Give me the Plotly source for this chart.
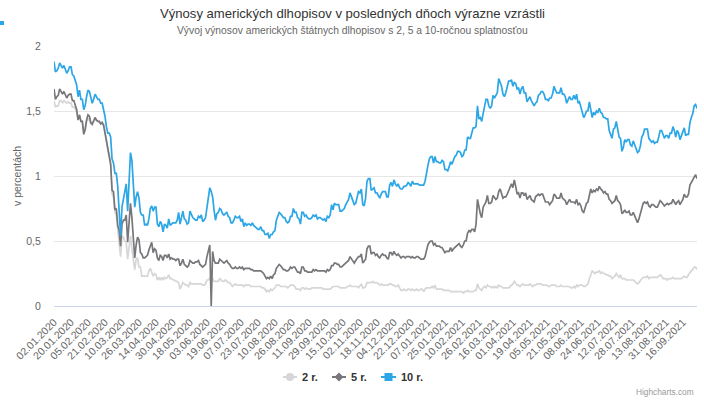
import pandas as pd
import plotly.graph_objects as go

# ---------------- data ----------------
SERIES_NAMES = ["2 r.", "5 r.", "10 r."]

# trading days shown (weekdays, Good Friday 2020 missing in source)
START, END = "2020-01-02", "2021-09-30"
MISSING_DAYS = ["2020-04-10"]

TICK_LABELS = [
    "02.01.2020", "20.01.2020", "05.02.2020", "21.02.2020", "10.03.2020", "26.03.2020",
    "14.04.2020", "30.04.2020", "18.05.2020", "03.06.2020", "19.06.2020", "07.07.2020",
    "23.07.2020", "10.08.2020", "26.08.2020", "11.09.2020", "29.09.2020", "15.10.2020",
    "02.11.2020", "18.11.2020", "04.12.2020", "22.12.2020", "07.01.2021", "25.01.2021",
    "10.02.2021", "26.02.2021", "16.03.2021", "01.04.2021", "19.04.2021", "05.05.2021",
    "21.05.2021", "08.06.2021", "24.06.2021", "12.07.2021", "28.07.2021", "13.08.2021",
    "31.08.2021", "16.09.2021",
]

Y_TICKS = [0, 0.5, 1, 1.5, 2]
Y_TICK_TEXT = ["0", "0,5", "1", "1,5", "2"]

# one inner list per month (Jan 2020 ... Sep 2021)
Y2 = [
    [1.58,1.53,1.54,1.54,1.58,1.58,1.56,1.58,1.57,1.56,1.57,1.56,1.56,1.53,1.53,1.52,1.49,1.44,1.47,1.43,1.42,1.33],
    [1.35,1.42,1.44,1.43,1.40,1.39,1.42,1.44,1.43,1.42,1.42,1.40,1.42,1.40,1.35,1.27,1.21,1.16,1.10,0.86],
    [0.84,0.72,0.70,0.59,0.49,0.38,0.54,0.53,0.50,0.49,0.36,0.47,0.54,0.44,0.37,0.28,0.36,0.37,0.30,0.30,0.23,0.23],
    [0.23,0.23,0.23,0.27,0.29,0.26,0.23,0.25,0.24,0.20,0.22,0.20,0.22,0.20,0.22,0.21,0.22,0.24,0.21,0.21,0.20],
    [0.20,0.19,0.19,0.18,0.13,0.16,0.18,0.17,0.16,0.16,0.15,0.18,0.17,0.17,0.17,0.17,0.17,0.17,0.17,0.17,0.16],
    [0.16,0.17,0.20,0.20,0.22,0.23,0.21,0.19,0.19,0.19,0.19,0.21,0.20,0.19,0.19,0.20,0.19,0.18,0.18,0.16,0.15,0.16],
    [0.17,0.16,0.16,0.16,0.16,0.16,0.15,0.16,0.16,0.16,0.16,0.15,0.15,0.15,0.15,0.15,0.15,0.15,0.15,0.14,0.14,0.13,0.11],
    [0.12,0.11,0.13,0.12,0.13,0.14,0.16,0.16,0.16,0.15,0.15,0.15,0.15,0.15,0.14,0.15,0.16,0.16,0.16,0.15,0.13],
    [0.13,0.13,0.12,0.14,0.14,0.13,0.14,0.13,0.13,0.13,0.14,0.14,0.14,0.14,0.14,0.14,0.14,0.14,0.13,0.13,0.13,0.13],
    [0.13,0.13,0.14,0.15,0.15,0.15,0.15,0.15,0.14,0.14,0.14,0.14,0.14,0.15,0.15,0.16,0.15,0.15,0.15,0.15,0.15,0.14],
    [0.16,0.17,0.14,0.14,0.15,0.18,0.18,0.18,0.18,0.19,0.18,0.18,0.18,0.17,0.16,0.17,0.16,0.16,0.16,0.16,0.16],
    [0.17,0.17,0.16,0.16,0.15,0.15,0.16,0.14,0.12,0.12,0.13,0.12,0.12,0.13,0.13,0.12,0.13,0.12,0.12,0.13,0.12,0.12,0.13],
    [0.13,0.11,0.13,0.14,0.14,0.14,0.14,0.15,0.14,0.16,0.13,0.13,0.13,0.13,0.13,0.12,0.12,0.12,0.12,0.12,0.11],
    [0.11,0.11,0.11,0.11,0.11,0.11,0.11,0.11,0.10,0.11,0.11,0.12,0.11,0.11,0.11,0.11,0.12,0.12,0.17,0.14],
    [0.13,0.12,0.14,0.15,0.14,0.16,0.15,0.15,0.14,0.15,0.14,0.15,0.14,0.16,0.15,0.15,0.14,0.14,0.14,0.14,0.14,0.15,0.16],
    [0.17,0.19,0.17,0.16,0.16,0.15,0.16,0.17,0.16,0.16,0.16,0.16,0.17,0.16,0.15,0.16,0.16,0.17,0.17,0.17,0.17,0.16],
    [0.16,0.16,0.16,0.15,0.15,0.16,0.16,0.16,0.16,0.15,0.15,0.15,0.16,0.15,0.15,0.15,0.15,0.15,0.15,0.14,0.14],
    [0.15,0.14,0.16,0.15,0.16,0.16,0.16,0.15,0.15,0.16,0.17,0.21,0.25,0.27,0.26,0.25,0.26,0.26,0.27,0.25,0.26,0.25],
    [0.25,0.24,0.24,0.23,0.23,0.21,0.22,0.23,0.25,0.23,0.22,0.24,0.21,0.21,0.21,0.20,0.20,0.20,0.20,0.20,0.20,0.19],
    [0.18,0.17,0.18,0.20,0.21,0.22,0.22,0.22,0.23,0.21,0.22,0.22,0.22,0.22,0.22,0.22,0.23,0.24,0.23,0.21,0.21,0.21],
    [0.20,0.21,0.21,0.21,0.22,0.21,0.21,0.21,0.21,0.21,0.21,0.22,0.23,0.22,0.22,0.24,0.26,0.27,0.28,0.30,0.30,0.28],
]

Y5 = [
    [1.67,1.59,1.61,1.62,1.67,1.65,1.63,1.65,1.63,1.60,1.62,1.63,1.63,1.58,1.58,1.55,1.51,1.43,1.47,1.42,1.42,1.32],
    [1.36,1.43,1.47,1.46,1.41,1.40,1.43,1.45,1.43,1.42,1.42,1.40,1.41,1.39,1.33,1.26,1.20,1.15,1.09,0.89],
    [0.88,0.74,0.75,0.62,0.58,0.46,0.63,0.66,0.66,0.70,0.49,0.62,0.79,0.68,0.52,0.37,0.47,0.53,0.51,0.41,0.40,0.37],
    [0.37,0.38,0.39,0.43,0.47,0.49,0.41,0.44,0.43,0.37,0.35,0.39,0.38,0.35,0.39,0.39,0.37,0.40,0.36,0.37,0.36],
    [0.36,0.35,0.36,0.36,0.31,0.33,0.36,0.32,0.31,0.30,0.31,0.35,0.34,0.33,0.33,0.34,0.34,0.35,0.32,0.31,0.30],
    [0.31,0.32,0.38,0.42,0.47,0.00,0.42,0.35,0.33,0.33,0.33,0.36,0.35,0.34,0.33,0.34,0.35,0.33,0.32,0.30,0.29,0.29],
    [0.30,0.29,0.29,0.30,0.29,0.30,0.28,0.29,0.29,0.29,0.29,0.28,0.28,0.27,0.27,0.27,0.27,0.27,0.27,0.26,0.25,0.23,0.21],
    [0.22,0.21,0.23,0.21,0.24,0.25,0.29,0.31,0.32,0.31,0.29,0.28,0.28,0.27,0.27,0.28,0.30,0.29,0.30,0.30,0.28],
    [0.26,0.26,0.25,0.30,0.30,0.27,0.27,0.26,0.26,0.26,0.26,0.28,0.27,0.28,0.27,0.27,0.27,0.27,0.27,0.27,0.26,0.28],
    [0.27,0.28,0.31,0.31,0.33,0.33,0.32,0.32,0.30,0.30,0.31,0.32,0.33,0.34,0.35,0.38,0.36,0.35,0.33,0.35,0.37,0.38],
    [0.38,0.40,0.33,0.35,0.36,0.44,0.46,0.46,0.40,0.41,0.41,0.39,0.40,0.38,0.37,0.39,0.40,0.39,0.39,0.37,0.36],
    [0.41,0.41,0.39,0.42,0.40,0.39,0.40,0.38,0.37,0.38,0.38,0.37,0.38,0.38,0.38,0.37,0.38,0.37,0.37,0.38,0.38,0.37,0.36],
    [0.36,0.36,0.38,0.43,0.47,0.49,0.50,0.50,0.47,0.48,0.46,0.46,0.46,0.45,0.45,0.43,0.41,0.42,0.42,0.42,0.45],
    [0.42,0.44,0.45,0.46,0.47,0.48,0.46,0.45,0.47,0.50,0.50,0.56,0.58,0.57,0.59,0.59,0.57,0.63,0.82,0.75],
    [0.71,0.68,0.76,0.78,0.80,0.85,0.79,0.79,0.80,0.85,0.83,0.82,0.83,0.88,0.90,0.86,0.83,0.84,0.84,0.86,0.89,0.92,0.94],
    [0.91,0.97,0.92,0.86,0.87,0.83,0.87,0.87,0.85,0.87,0.82,0.84,0.85,0.82,0.81,0.80,0.84,0.85,0.86,0.85,0.86,0.86],
    [0.83,0.80,0.80,0.80,0.78,0.80,0.81,0.86,0.85,0.83,0.83,0.83,0.87,0.83,0.82,0.81,0.78,0.80,0.82,0.80,0.80],
    [0.80,0.79,0.82,0.78,0.79,0.77,0.73,0.72,0.75,0.79,0.80,0.86,0.90,0.87,0.89,0.88,0.90,0.89,0.92,0.90,0.89,0.87],
    [0.88,0.86,0.86,0.82,0.81,0.79,0.80,0.81,0.85,0.81,0.80,0.78,0.71,0.72,0.74,0.72,0.72,0.73,0.70,0.70,0.72,0.69],
    [0.66,0.64,0.67,0.71,0.77,0.79,0.80,0.79,0.80,0.77,0.76,0.78,0.78,0.77,0.76,0.76,0.78,0.81,0.80,0.78,0.77,0.78],
    [0.79,0.78,0.79,0.79,0.82,0.80,0.78,0.80,0.81,0.78,0.80,0.82,0.86,0.84,0.84,0.86,0.93,0.95,0.96,0.99,1.01,0.98],
]

Y10 = [
    [1.88,1.80,1.81,1.83,1.87,1.85,1.83,1.85,1.82,1.79,1.81,1.84,1.84,1.78,1.77,1.74,1.70,1.61,1.66,1.59,1.59,1.51],
    [1.54,1.61,1.66,1.65,1.59,1.56,1.59,1.63,1.61,1.59,1.59,1.56,1.56,1.52,1.46,1.38,1.33,1.33,1.30,1.13],
    [1.10,1.02,1.02,0.92,0.74,0.54,0.76,0.82,0.88,0.94,0.73,1.02,1.18,1.12,0.92,0.76,0.84,0.88,0.83,0.72,0.70,0.70],
    [0.62,0.63,0.62,0.67,0.75,0.77,0.73,0.76,0.76,0.63,0.61,0.65,0.63,0.57,0.63,0.62,0.60,0.67,0.62,0.63,0.64],
    [0.64,0.64,0.66,0.72,0.63,0.69,0.73,0.67,0.66,0.63,0.64,0.73,0.70,0.68,0.67,0.66,0.66,0.69,0.68,0.70,0.65],
    [0.66,0.68,0.77,0.82,0.91,0.88,0.84,0.74,0.66,0.71,0.72,0.75,0.74,0.71,0.70,0.71,0.72,0.69,0.68,0.64,0.64,0.66],
    [0.69,0.68,0.68,0.69,0.65,0.67,0.61,0.64,0.62,0.63,0.63,0.62,0.64,0.62,0.61,0.60,0.59,0.59,0.61,0.58,0.58,0.55,0.55],
    [0.56,0.52,0.55,0.55,0.57,0.58,0.66,0.69,0.72,0.71,0.69,0.68,0.68,0.65,0.64,0.65,0.69,0.69,0.75,0.72,0.72],
    [0.68,0.67,0.63,0.72,0.72,0.69,0.70,0.68,0.67,0.67,0.68,0.70,0.69,0.70,0.67,0.68,0.68,0.67,0.66,0.67,0.65,0.69],
    [0.68,0.70,0.78,0.74,0.79,0.78,0.78,0.78,0.73,0.73,0.74,0.75,0.78,0.80,0.82,0.87,0.84,0.81,0.78,0.79,0.85,0.88],
    [0.87,0.90,0.78,0.77,0.83,0.96,0.98,0.98,0.89,0.90,0.91,0.87,0.87,0.85,0.83,0.86,0.88,0.88,0.88,0.84,0.84],
    [0.93,0.95,0.92,0.97,0.94,0.92,0.94,0.91,0.90,0.90,0.92,0.92,0.93,0.95,0.94,0.92,0.96,0.94,0.94,0.94,0.94,0.93,0.93],
    [0.93,0.93,0.96,1.04,1.08,1.13,1.15,1.15,1.10,1.15,1.11,1.11,1.10,1.10,1.12,1.11,1.05,1.05,1.04,1.07,1.11],
    [1.09,1.12,1.15,1.16,1.19,1.19,1.18,1.15,1.16,1.20,1.20,1.30,1.29,1.29,1.34,1.37,1.37,1.38,1.54,1.44],
    [1.45,1.42,1.48,1.54,1.59,1.59,1.54,1.52,1.54,1.62,1.60,1.62,1.64,1.75,1.72,1.69,1.63,1.61,1.64,1.68,1.73,1.73,1.74],
    [1.69,1.72,1.71,1.67,1.68,1.63,1.67,1.69,1.64,1.64,1.57,1.59,1.61,1.58,1.56,1.54,1.56,1.57,1.62,1.63,1.65,1.65],
    [1.63,1.59,1.59,1.58,1.60,1.60,1.63,1.69,1.66,1.64,1.64,1.64,1.68,1.63,1.63,1.61,1.56,1.58,1.61,1.59,1.59],
    [1.62,1.59,1.63,1.56,1.57,1.53,1.50,1.45,1.47,1.50,1.50,1.57,1.51,1.45,1.49,1.47,1.50,1.49,1.52,1.49,1.48,1.45],
    [1.45,1.44,1.44,1.35,1.32,1.29,1.36,1.37,1.42,1.35,1.30,1.29,1.19,1.22,1.28,1.26,1.28,1.28,1.24,1.23,1.27,1.24],
    [1.20,1.18,1.19,1.23,1.30,1.32,1.36,1.36,1.36,1.29,1.27,1.26,1.27,1.25,1.26,1.26,1.30,1.35,1.35,1.31,1.29,1.31],
    [1.31,1.29,1.33,1.33,1.38,1.35,1.30,1.35,1.33,1.28,1.31,1.34,1.37,1.31,1.32,1.32,1.41,1.45,1.48,1.54,1.55,1.52],
]

COLORS = ["#d6d6d6", "#77777b", "#2ba6e6"]

# ---------------- categories ----------------
days = pd.bdate_range(START, END)
days = days[~days.isin(pd.to_datetime(MISSING_DAYS))]
months = days.to_period("M")
month_counts = pd.Series(1, index=months).groupby(level=0).size().tolist()
for name, ser in zip(SERIES_NAMES, [Y2, Y5, Y10]):
    got = [len(m) for m in ser]
    if got != month_counts:
        bad = [(i, g, e) for i, (g, e) in enumerate(zip(got, month_counts)) if g != e]
        raise SystemExit(f"{name}: month length mismatch {bad}")
categories = [d.strftime("%d.%m.%Y") for d in days]


def flat(ser):
    return [v for m in ser for v in m]


# ---------------- geometry helpers (pixel -> paper) ----------------
W, H = 704, 400
L, R, T, B = 54, 7, 46, 94
PW, PH = W - L - R, H - T - B


def px(x):
    return (x - L) / PW


def py(y):
    return (H - B - y) / PH


FONT = "Liberation Sans, Arial, Helvetica, sans-serif"

fig = go.Figure()
for name, ser, col in zip(SERIES_NAMES, [Y2, Y5, Y10], COLORS):
    fig.add_trace(go.Scatter(
        x=categories, y=flat(ser), mode="lines", name=name,
        line=dict(color=col, width=1.7), showlegend=False,
        hovertemplate="%{x}: %{y}<extra>" + name + "</extra>",
    ))

fig.update_layout(
    width=W, height=H,
    margin=dict(l=L, r=R, t=T, b=B),
    paper_bgcolor="white", plot_bgcolor="white",
    font=dict(family=FONT, color="#666666"),
    xaxis=dict(
        type="category", range=[0, len(categories) - 1],
        tickmode="array", tickvals=TICK_LABELS, ticktext=TICK_LABELS,
        tickangle=-45, tickfont=dict(size=10.5, color="#666666"),
        showgrid=False, showline=True, linecolor="#ccd6eb", linewidth=1,
        ticks="outside", ticklen=5, tickcolor="rgba(0,0,0,0)",
        zeroline=False, fixedrange=True,
    ),
    yaxis=dict(
        range=[0, 2], tickmode="array", tickvals=Y_TICKS, ticktext=Y_TICK_TEXT,
        tickfont=dict(size=10.5, color="#666666"),
        showgrid=True, gridcolor="#e6e6e6", gridwidth=1,
        zeroline=False, showline=False,
        ticks="outside", ticklen=10, tickcolor="rgba(0,0,0,0)",
        fixedrange=True,
    ),
    showlegend=False,
)

ann = [
    dict(text="Výnosy amerických dlhopisov v posledných dňoch výrazne vzrástli",
         x=px(352), y=py(13), font=dict(size=13.1, color="#333333")),
    dict(text="Vývoj výnosov amerických štátnych dlhopisov s 2, 5 a 10-ročnou splatnosťou",
         x=px(352), y=py(30), font=dict(size=10.3, color="#666666")),
    dict(text="v percentách", x=px(17), y=py(176), textangle=-90,
         font=dict(size=10.5, color="#666666")),
    dict(text="Highcharts.com", x=px(696), y=py(392), xanchor="right",
         font=dict(size=8.3, color="#999999")),
]
for a in ann:
    a.setdefault("xanchor", "center")
    fig.add_annotation(xref="paper", yref="paper", showarrow=False, yanchor="middle", **a)

# custom legend (Highcharts style)
LEG_Y = 377
legend_items = [(283, 297, 300, "circle"), (332, 346, 349, "diamond"), (381, 396, 399, "square")]
shapes = []
for (x0, x1, tx, sym), name, col in zip(legend_items, SERIES_NAMES, COLORS):
    shapes.append(dict(type="line", xref="paper", yref="paper", x0=px(x0), x1=px(x1),
                       y0=py(LEG_Y), y1=py(LEG_Y), line=dict(color=col, width=2)))
    cx = px((x0 + x1) / 2)
    common = dict(xref="paper", yref="paper", xsizemode="pixel", ysizemode="pixel",
                  xanchor=cx, yanchor=py(LEG_Y), fillcolor=col, line=dict(width=0))
    if sym == "circle":
        shapes.append(dict(type="circle", x0=-4, x1=4, y0=-4, y1=4, **common))
    elif sym == "diamond":
        shapes.append(dict(type="path", path="M 0 4.5 L 4.5 0 L 0 -4.5 L -4.5 0 Z", **common))
    else:
        shapes.append(dict(type="rect", x0=-4, x1=4, y0=-4, y1=4, **common))
    fig.add_annotation(xref="paper", yref="paper", showarrow=False, x=px(tx), y=py(LEG_Y),
                       xanchor="left", yanchor="middle", text="<b>" + name + "</b>",
                       font=dict(size=11, color="#333333"))

# small blue marker at top-left corner of the page
shapes.append(dict(type="rect", xref="paper", yref="paper", x0=px(0), x1=px(4),
                   y0=py(25), y1=py(21), fillcolor="#2ba6e6", line=dict(width=0)))
fig.update_layout(shapes=shapes)

fig.write_html("out.html")
